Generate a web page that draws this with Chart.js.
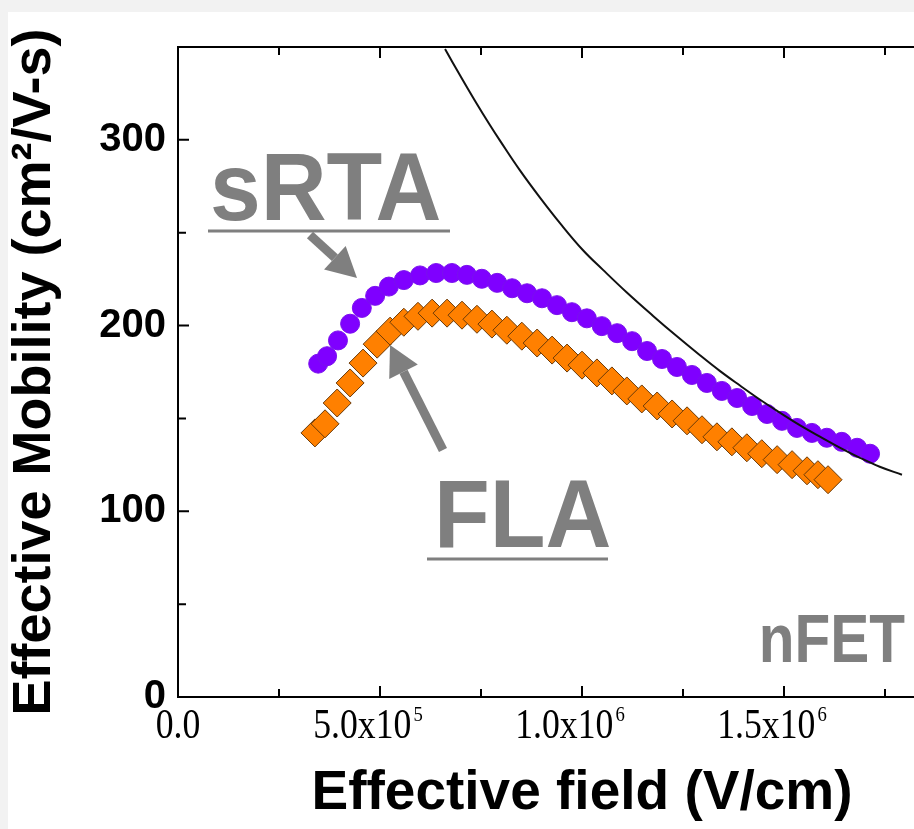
<!DOCTYPE html>
<html lang="en">
<head>
  <meta charset="UTF-8" />
  <title>Effective mobility vs effective field</title>
  <script src="https://cdn.jsdelivr.net/npm/chart.js"></script>
  <style>
    html, body { margin: 0; padding: 0; background: #f2f2f2; overflow: hidden; }
    #wrap { position: relative; width: 914px; height: 829px; overflow: hidden; }
    #chart { position: absolute; left: 0; top: 0; }
  </style>
</head>
<body>
  <div id="wrap"><canvas id="chart" width="1010" height="829"></canvas></div>

  <script>
    // sRTA (purple circles)
    const srtaField = [3.47e5, 3.69e5, 3.96e5, 4.26e5, 4.55e5, 4.88e5, 5.22e5, 5.59e5, 5.99e5, 6.39e5,
      6.78e5, 7.15e5, 7.52e5, 7.90e5, 8.27e5, 8.64e5, 9.01e5, 9.38e5, 9.75e5, 1.012e6,
      1.049e6, 1.087e6, 1.124e6, 1.161e6, 1.198e6, 1.235e6, 1.272e6, 1.309e6, 1.346e6, 1.384e6,
      1.421e6, 1.458e6, 1.495e6, 1.532e6, 1.569e6, 1.606e6, 1.643e6, 1.681e6, 1.713e6];
    const srtaMobility = [179.5, 183.5, 192, 201, 209.5, 216, 221, 224.5, 227, 228.3,
      228.3, 227.3, 225.2, 223, 220.1, 217.4, 214.7, 211, 207.2, 203.9,
      199.7, 195.9, 191.6, 186.3, 182, 177.7, 173.4, 169.1, 164.8, 161,
      156.7, 152.4, 148.7, 144.9, 142.2, 139.6, 137.4, 134.2, 131];

    // FLA (orange diamonds)
    const flaField = [3.39e5, 3.64e5, 3.94e5, 4.26e5, 4.58e5, 4.93e5, 5.25e5, 5.59e5, 5.94e5, 6.29e5,
      6.66e5, 7.03e5, 7.40e5, 7.77e5, 8.14e5, 8.51e5, 8.89e5, 9.26e5, 9.63e5, 1.000e6,
      1.037e6, 1.074e6, 1.111e6, 1.148e6, 1.186e6, 1.223e6, 1.260e6, 1.297e6, 1.334e6, 1.371e6,
      1.408e6, 1.445e6, 1.483e6, 1.520e6, 1.557e6, 1.584e6, 1.609e6];
    const flaMobility = [142.2, 147.1, 158.3, 169.1, 179.8, 190, 197, 201.8, 205, 206.7,
      206.7, 205.6, 203.4, 200.8, 197.5, 194.3, 190.6, 186.8, 182.5, 178.7,
      174.5, 170.2, 164.8, 160.5, 156.7, 152.4, 148.7, 143.9, 140.1, 137.4,
      134.2, 131, 127.8, 125.1, 121.8, 119.7, 117];

    // universal mobility curve (black line)
    const univField = [6.61e5, 6.98e5, 7.35e5, 7.72e5, 7.97e5, 8.46e5, 8.96e5, 9.45e5, 1.002e6, 1.052e6,
      1.111e6, 1.176e6, 1.235e6, 1.292e6, 1.341e6, 1.391e6, 1.440e6, 1.490e6, 1.539e6, 1.589e6,
      1.638e6, 1.688e6, 1.737e6, 1.792e6];
    const univMobility = [348.9, 334.8, 321.1, 308.0, 299.6, 283.7, 268.9, 255.3, 240.7, 230.0,
      217.8, 205.2, 194.2, 184.0, 175.6, 167.7, 160.2, 153.1, 146.4, 140.2,
      134.3, 128.8, 124.0, 119.7];

    // x tick labels: mantissa + superscript exponent
    const xTickValues = [0, 5e5, 1e6, 1.5e6];
    const xTickMantissa = ['0.0', '5.0x10', '1.0x10', '1.5x10'];
    const xTickExponent = ['', '5', '6', '6'];
    const yTickValues = [0, 100, 200, 300];

    const toXY = (xs, ys) => xs.map((v, i) => ({ x: v, y: ys[i] }));
    const grey = '#7f7f7f';
    const sans = '"Liberation Sans", Arial, sans-serif';
    const serif = '"Liberation Serif", "Times New Roman", serif';

    function arrow(ctx, x1, y1, x2, y2) {
      const ang = Math.atan2(y2 - y1, x2 - x1);
      const head = 30, half = 16;
      const bx = x2 - head * Math.cos(ang), by = y2 - head * Math.sin(ang);
      ctx.lineWidth = 9;
      ctx.beginPath();
      ctx.moveTo(x1, y1);
      ctx.lineTo(bx, by);
      ctx.stroke();
      ctx.beginPath();
      ctx.moveTo(x2, y2);
      ctx.lineTo(bx + half * Math.sin(ang), by - half * Math.cos(ang));
      ctx.lineTo(bx - half * Math.sin(ang), by + half * Math.cos(ang));
      ctx.closePath();
      ctx.fill();
    }

    // narrow text helper (squeezed horizontally)
    function squeezed(ctx, text, x, y, sx) {
      ctx.save();
      ctx.translate(x, y);
      ctx.scale(sx, 1);
      ctx.fillText(text, 0, 0);
      ctx.restore();
    }

    const frame = {
      id: 'frame',
      beforeDraw(chart) {
        const ctx = chart.ctx;
        ctx.save();
        ctx.fillStyle = '#f2f2f2';
        ctx.fillRect(0, 0, chart.width, chart.height);
        ctx.fillStyle = '#ffffff';
        ctx.fillRect(8, 12, chart.width - 8, chart.height - 12);
        ctx.restore();
      },
      afterDraw(chart) {
        const { ctx, chartArea: a, scales: { x, y } } = chart;
        ctx.save();
        // axis box + inward ticks
        ctx.strokeStyle = '#000';
        ctx.lineWidth = 2;
        ctx.strokeRect(a.left, a.top, a.right - a.left, a.bottom - a.top);
        ctx.beginPath();
        x.ticks.forEach(t => {
          const px = x.getPixelForValue(t.value);
          const len = t.value % 5e5 === 0 ? 11 : 8;
          ctx.moveTo(px, a.bottom); ctx.lineTo(px, a.bottom - len);
          ctx.moveTo(px, a.top); ctx.lineTo(px, a.top + len);
        });
        y.ticks.forEach(t => {
          const py = y.getPixelForValue(t.value);
          const len = t.value % 100 === 0 ? 11 : 8;
          ctx.moveTo(a.left, py); ctx.lineTo(a.left + len, py);
          ctx.moveTo(a.right, py); ctx.lineTo(a.right - len, py);
        });
        ctx.stroke();

        // x tick labels with superscripts
        ctx.fillStyle = '#000';
        ctx.textAlign = 'left';
        ctx.textBaseline = 'alphabetic';
        const sx = 0.85;
        xTickValues.forEach((v, i) => {
          ctx.font = '42px ' + serif;
          const mw = ctx.measureText(xTickMantissa[i]).width * sx;
          ctx.font = '22px ' + serif;
          const ew = xTickExponent[i] ? ctx.measureText(xTickExponent[i]).width * sx + 2 : 0;
          const shift = xTickExponent[i] ? 12 : 0;
          const left = x.getPixelForValue(v) - (mw + ew) / 2 - shift;
          const base = a.bottom + 41;
          ctx.font = '42px ' + serif;
          squeezed(ctx, xTickMantissa[i], left, base, sx);
          if (xTickExponent[i]) {
            ctx.font = '22px ' + serif;
            squeezed(ctx, xTickExponent[i], left + mw + 2, base - 17, sx);
          }
        });

        // annotations
        ctx.fillStyle = grey;
        ctx.strokeStyle = grey;
        ctx.font = 'bold 96px ' + sans;
        squeezed(ctx, 'sRTA', a.left + 32, a.top + 173, 0.95);
        squeezed(ctx, 'FLA', a.left + 256, a.top + 500, 0.95);
        ctx.font = 'bold 68px ' + sans;
        const nw = ctx.measureText('nFET').width * 0.86;
        squeezed(ctx, 'nFET', a.left + 727 - nw, a.top + 615, 0.86);

        ctx.lineWidth = 3;
        ctx.beginPath();
        ctx.moveTo(a.left + 30, a.top + 184); ctx.lineTo(a.left + 272, a.top + 184);
        ctx.moveTo(a.left + 249, a.top + 512); ctx.lineTo(a.left + 430, a.top + 512);
        ctx.stroke();

        arrow(ctx, a.left + 132, a.top + 188, a.left + 179, a.top + 231);
        arrow(ctx, a.left + 265, a.top + 403, a.left + 212, a.top + 298);
        ctx.restore();
      }
    };

    new Chart(document.getElementById('chart'), {
      type: 'scatter',
      data: {
        datasets: [
          {
            label: 'Universal',
            data: toXY(univField, univMobility),
            showLine: true,
            borderColor: '#111111',
            borderWidth: 2,
            pointRadius: 0,
            tension: 0.4,
            order: 0
          },
          {
            label: 'sRTA',
            data: toXY(srtaField, srtaMobility),
            pointStyle: 'circle',
            pointRadius: 9.5,
            backgroundColor: '#7f00ff',
            borderColor: '#7a10ee',
            borderWidth: 1,
            order: 1
          },
          {
            label: 'FLA',
            data: toXY(flaField, flaMobility),
            pointStyle: 'rectRot',
            pointRadius: 14,
            backgroundColor: '#ff8000',
            borderColor: '#6b3a08',
            borderWidth: 1,
            order: 2
          }
        ]
      },
      options: {
        responsive: false,
        animation: false,
        layout: { padding: { top: 47, right: 24, left: 0, bottom: 0 } },
        plugins: { legend: { display: false }, tooltip: { enabled: false } },
        scales: {
          x: {
            type: 'linear',
            min: 0,
            max: 2e6,
            grid: { display: false, drawTicks: false },
            border: { display: false },
            afterFit: s => { s.height = 132; s.paddingLeft = 0; s.paddingRight = 0; },
            ticks: {
              stepSize: 2.5e5,
              autoSkip: false,
              maxRotation: 0,
              callback: () => ''
            },
            title: {
              display: true,
              text: 'Effective field (V/cm)',
              color: '#000',
              padding: { top: 0, bottom: 2 },
              font: { family: sans, size: 55, weight: 'bold' }
            }
          },
          y: {
            min: 0,
            max: 350,
            grid: { display: false, drawTicks: false },
            border: { display: false },
            afterFit: s => { s.width = 178; },
            ticks: {
              stepSize: 50,
              autoSkip: false,
              padding: 12,
              color: '#000',
              font: { family: sans, size: 40, weight: 'bold' },
              callback: v => yTickValues.includes(v) ? String(v) : ''
            },
            title: {
              display: true,
              text: 'Effective Mobility (cm²/V-s)',
              color: '#000',
              padding: { top: 3, bottom: 0 },
              font: { family: sans, size: 54, weight: 'bold' }
            }
          }
        }
      },
      plugins: [frame]
    });
  </script>
</body>
</html>
